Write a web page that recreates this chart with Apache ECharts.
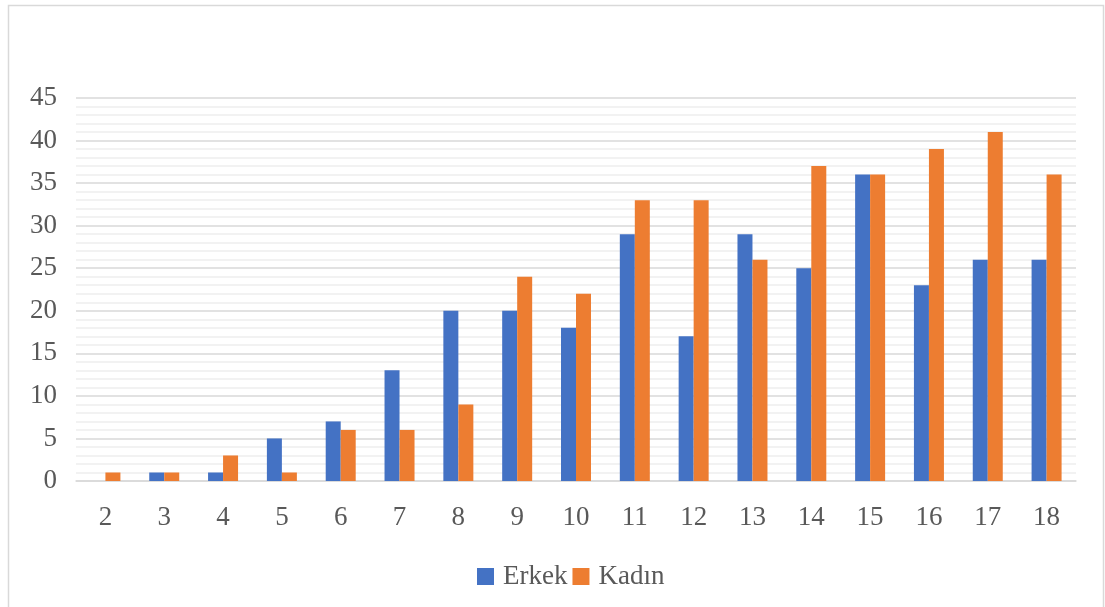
<!DOCTYPE html>
<html><head><meta charset="utf-8">
<script src="https://cdn.jsdelivr.net/npm/echarts@6/dist/echarts.min.js"></script>
<style>html,body{margin:0;padding:0;background:#fff}#c{width:1105px;height:607px}</style>
</head><body><div id="c"></div>
<script>
const categories = ['2','3','4','5','6','7','8','9','10','11','12','13','14','15','16','17','18'];
const erkek = [0,1,1,5,7,13,20,20,18,29,17,29,25,36,23,26,26];
const kadin = [1,1,3,1,6,6,9,24,22,33,33,26,37,36,39,41,36];
const seriesNames = ['Erkek','Kadın'];
const chart = echarts.init(document.getElementById('c'), null, {renderer:'canvas'});
const font = '"Liberation Serif", "Times New Roman", serif';
chart.setOption({
  animation:false,
  graphic:[{type:'rect',shape:{x:8.5,y:5.5,width:1095,height:620},style:{fill:'none',stroke:'#d9d9d9',lineWidth:1.5},silent:true,z:-1}],
  grid:{left:76,right:29,top:98,bottom:126,containLabel:false},
  legend:{bottom:12,left:472,itemWidth:17,itemHeight:17,itemGap:5,icon:'rect',
    textStyle:{fontFamily:font,fontSize:27,color:'#595959',padding:[0,0,0,4]},data:seriesNames},
  xAxis:{type:'category',data:categories,
    axisLine:{lineStyle:{color:'#d9d9d9',width:1.5}},axisTick:{show:false},
    axisLabel:{fontFamily:font,fontSize:27,color:'#595959',margin:23}},
  yAxis:{type:'value',min:0,max:45,interval:5,
    axisLine:{show:false},axisTick:{show:false},
    axisLabel:{fontFamily:font,fontSize:27,color:'#595959',margin:19},
    splitLine:{lineStyle:{color:'#d9d9d9',width:1.5}},
    minorTick:{show:false,splitNumber:5},
    minorSplitLine:{show:true,lineStyle:{color:'#eeeeee',width:1.5}}},
  series:[
    {name:seriesNames[0],type:'bar',data:erkek,barWidth:15,barGap:'0%',itemStyle:{color:'#4472C4'}},
    {name:seriesNames[1],type:'bar',data:kadin,barWidth:15,barGap:'0%',itemStyle:{color:'#ED7D31'}}
  ]
});
</script></body></html>
